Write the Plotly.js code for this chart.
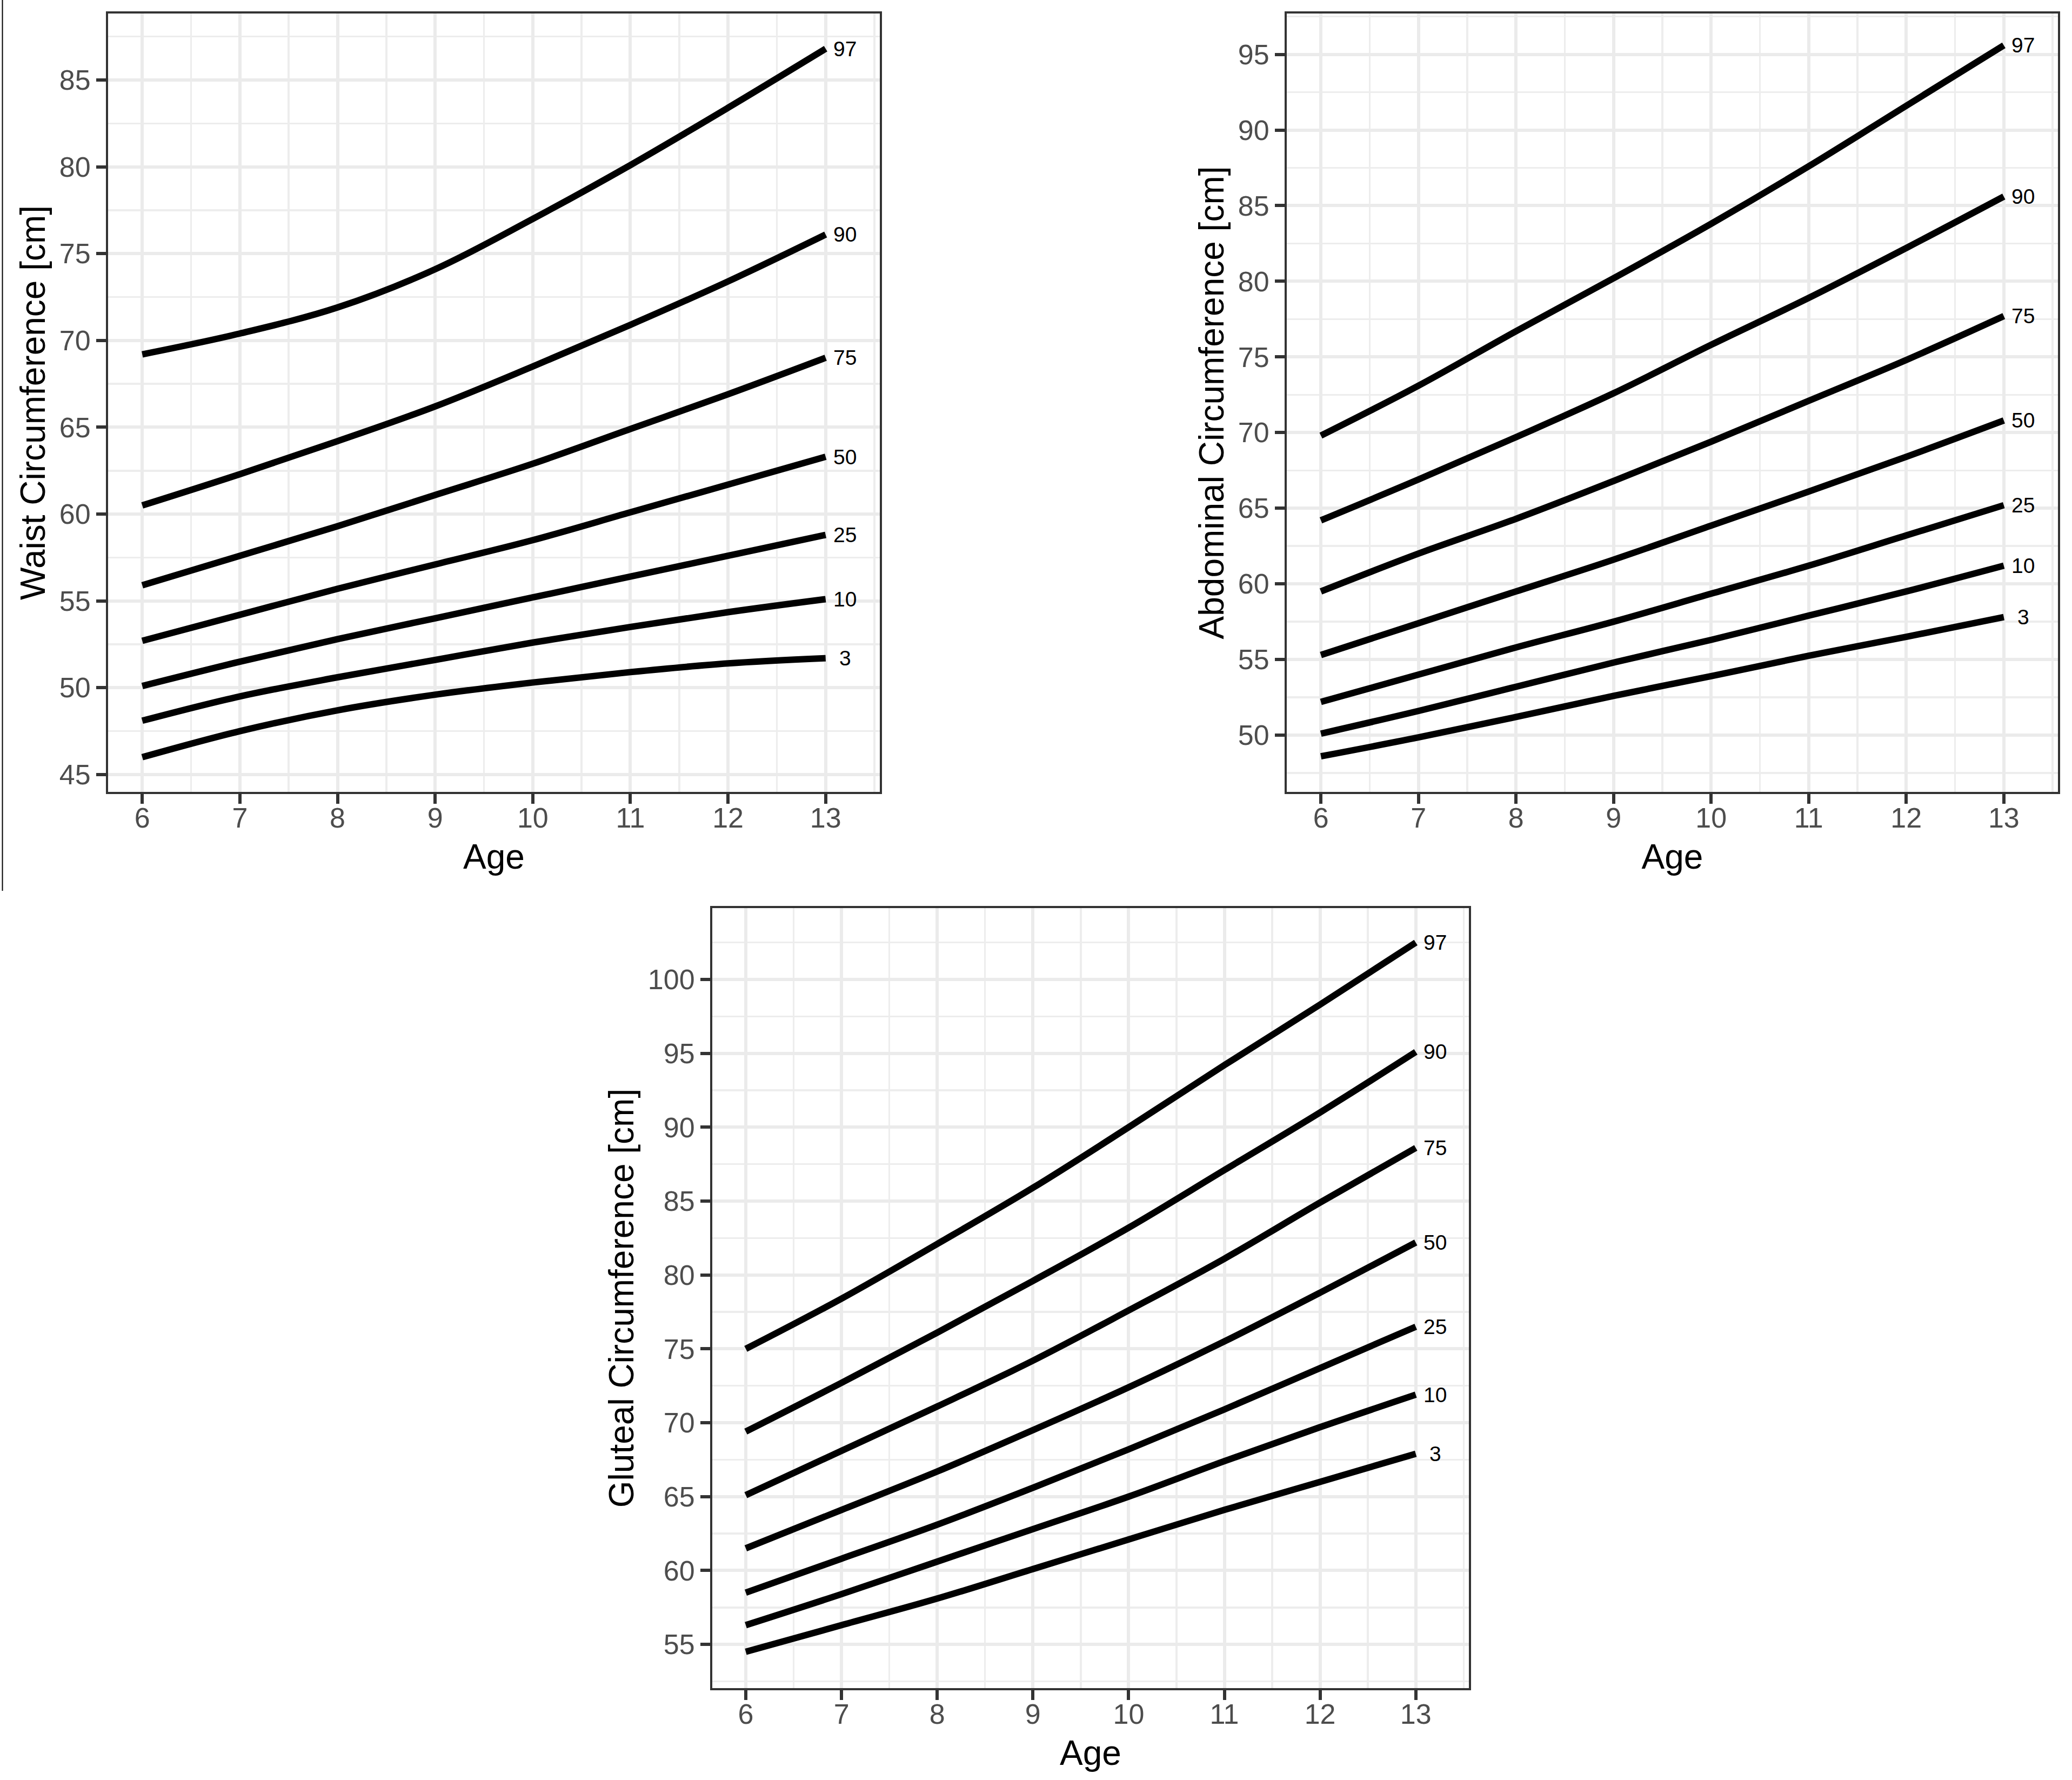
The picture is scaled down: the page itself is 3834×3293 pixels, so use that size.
<!DOCTYPE html>
<html>
<head>
<meta charset="utf-8">
<script src="https://cdn.plot.ly/plotly-3.0.1.min.js"></script>
<style>
  html, body { margin: 0; padding: 0; background: #ffffff; }
  #chart { width: 3834px; height: 3293px; }
</style>
</head>
<body>
<div id="chart"></div>
<script>
// ---------------- DATA ----------------
const ages = [6, 7, 8, 9, 10, 11, 12, 13];
const percentileLabels = ["3", "10", "25", "50", "75", "90", "97"];

// Waist circumference [cm]
const waist_p3  = [46.0, 47.5, 48.7, 49.6, 50.3, 50.9, 51.4, 51.7];
const waist_p10 = [48.1, 49.5, 50.6, 51.6, 52.6, 53.5, 54.35, 55.1];
const waist_p25 = [50.1, 51.5, 52.8, 54.0, 55.2, 56.4, 57.6, 58.8];
const waist_p50 = [52.7, 54.2, 55.7, 57.1, 58.5, 60.1, 61.7, 63.3];
const waist_p75 = [55.9, 57.6, 59.3, 61.1, 62.9, 64.9, 66.9, 69.0];
const waist_p90 = [60.5, 62.3, 64.2, 66.2, 68.5, 70.9, 73.4, 76.1];
const waist_p97 = [69.2, 70.4, 71.9, 74.1, 77.0, 80.1, 83.4, 86.8];

// Abdominal circumference [cm]
const abd_p3  = [48.6, 49.85, 51.2, 52.6, 53.9, 55.25, 56.5, 57.8];
const abd_p10 = [50.1, 51.6, 53.2, 54.8, 56.3, 57.9, 59.5, 61.2];
const abd_p25 = [52.2, 54.0, 55.8, 57.5, 59.35, 61.2, 63.2, 65.2];
const abd_p50 = [55.3, 57.4, 59.5, 61.6, 63.85, 66.1, 68.4, 70.8];
const abd_p75 = [59.5, 62.0, 64.3, 66.8, 69.4, 72.1, 74.8, 77.7];
const abd_p90 = [64.2, 66.9, 69.7, 72.6, 75.8, 78.9, 82.2, 85.6];
const abd_p97 = [69.8, 73.1, 76.7, 80.2, 83.8, 87.6, 91.6, 95.6];

// Gluteal circumference [cm]
const glu_p3  = [54.5, 56.3, 58.1, 60.1, 62.1, 64.1, 66.0, 67.9];
const glu_p10 = [56.3, 58.4, 60.6, 62.8, 65.0, 67.4, 69.7, 71.9];
const glu_p25 = [58.5, 60.8, 63.1, 65.6, 68.2, 70.9, 73.7, 76.5];
const glu_p50 = [61.5, 64.1, 66.7, 69.5, 72.4, 75.5, 78.8, 82.2];
const glu_p75 = [65.1, 68.1, 71.1, 74.2, 77.6, 81.1, 84.9, 88.6];
const glu_p90 = [69.4, 72.7, 76.1, 79.6, 83.2, 87.1, 91.0, 95.1];
const glu_p97 = [75.0, 78.4, 82.1, 85.9, 90.0, 94.2, 98.3, 102.5];

const panelTitles = ["Waist Circumference [cm]", "Abdominal Circumference [cm]", "Gluteal Circumference [cm]"];
const xTitle = "Age";

// ---------------- BUILD ----------------
const W = 3834, H = 3293;
const FONT = "Liberation Sans, Arial, Helvetica, sans-serif";

const panels = [
  { series: [waist_p3, waist_p10, waist_p25, waist_p50, waist_p75, waist_p90, waist_p97],
    xa: "x", ya: "y", px: [200, 1628], py: [25, 1465], yr: [44.0, 88.83] },
  { series: [abd_p3, abd_p10, abd_p25, abd_p50, abd_p75, abd_p90, abd_p97],
    xa: "x2", ya: "y2", px: [2381, 3808], py: [25, 1465], yr: [46.25, 97.7] },
  { series: [glu_p3, glu_p10, glu_p25, glu_p50, glu_p75, glu_p90, glu_p97],
    xa: "x3", ya: "y3", px: [1318, 2718], py: [1680, 3123], yr: [52.04, 104.83] }
];

const traces = [];
const annotations = [];
const layout = {
  width: W, height: H,
  margin: { l: 0, r: 0, t: 0, b: 0, pad: 0 },
  paper_bgcolor: "#ffffff",
  plot_bgcolor: "#ffffff",
  showlegend: false,
  font: { family: FONT, color: "#000000" },
  shapes: [
    { type: "line", xref: "paper", yref: "paper",
      x0: 4.5 / W, x1: 4.5 / W, y0: 1, y1: 1 - 1648 / H,
      line: { color: "#000000", width: 2 } }
  ]
};

function axisBase() {
  return {
    showline: true, mirror: true, linecolor: "#333333", linewidth: 4,
    ticks: "outside", ticklen: 18, tickwidth: 6, tickcolor: "#333333",
    tickfont: { family: FONT, size: 52, color: "#4D4D4D" },
    showgrid: true, gridcolor: "#EBEBEB", gridwidth: 6,
    zeroline: false, fixedrange: true
  };
}

panels.forEach((p, i) => {
  p.series.forEach((vals, k) => {
    traces.push({
      type: "scatter", mode: "lines",
      x: ages, y: vals,
      xaxis: p.xa, yaxis: p.ya,
      line: { color: "#000000", width: 12, shape: "spline", smoothing: 1 },
      hoverinfo: "skip"
    });
    annotations.push({
      xref: p.xa, yref: p.ya,
      x: ages[ages.length - 1], y: vals[vals.length - 1],
      xshift: 36, xanchor: "center", yanchor: "middle",
      text: percentileLabels[k], showarrow: false,
      font: { family: FONT, size: 39, color: "#000000" }
    });
  });

  const sfx = i === 0 ? "" : String(i + 1);
  const xa = axisBase();
  xa.domain = [p.px[0] / W, p.px[1] / W];
  xa.range = [5.65, 13.555];
  xa.tick0 = 6; xa.dtick = 1; xa.tickmode = "linear";
  xa.ticklabelstandoff = -18;
  xa.minor = { tick0: 5.5, dtick: 0.5, showgrid: true, gridcolor: "#EDEDED", gridwidth: 3.5, ticks: "" };
  xa.anchor = "y" + sfx;
  xa.title = { text: xTitle, font: { family: FONT, size: 64, color: "#000000" }, standoff: 22 };

  const ya = axisBase();
  ya.domain = [1 - p.py[1] / H, 1 - p.py[0] / H];
  ya.range = p.yr;
  ya.tick0 = 0; ya.dtick = 5; ya.tickmode = "linear";
  ya.minor = { tick0: 2.5, dtick: 2.5, showgrid: true, gridcolor: "#EDEDED", gridwidth: 3.5, ticks: "" };
  ya.anchor = "x" + sfx;
  ya.title = { text: panelTitles[i], font: { family: FONT, size: 64, color: "#000000" }, standoff: 6 };

  layout["xaxis" + sfx] = xa;
  layout["yaxis" + sfx] = ya;
});

layout.annotations = annotations;

Plotly.newPlot("chart", traces, layout, { staticPlot: true, displayModeBar: false });
</script>
</body>
</html>
